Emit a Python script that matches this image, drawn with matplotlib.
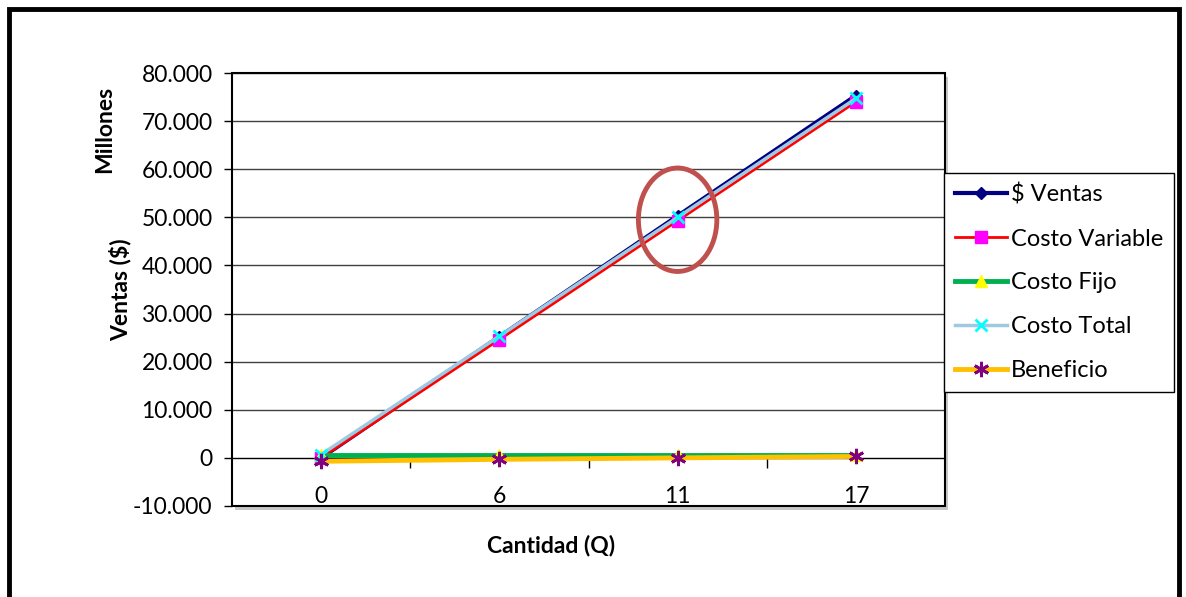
import numpy as np
import matplotlib
matplotlib.use("Agg")
import matplotlib.pyplot as plt
from matplotlib.patches import Rectangle, Ellipse
from matplotlib.ticker import FuncFormatter

plt.rcParams['font.family'] = ['Lato', 'DejaVu Sans']

# data (millions)
cantidad = ["0", "6", "11", "17"]
ventas = [0, 25200, 50300, 75300]
costo_variable = [0, 24600, 49300, 74000]
costo_fijo = [700, 700, 700, 700]
costo_total = [700, 25300, 50000, 74700]
beneficio = [-700, -300, 0, 300]

x = np.arange(len(cantidad))

fig = plt.figure(figsize=(11.86, 5.97), dpi=100)
ax = fig.add_axes([232/1186, 1-506/597, 713/1186, 433/597])

# shadow of plot area
fig.patches.append(Rectangle((235/1186, 1-510/597), 713/1186, 433/597,
                             transform=fig.transFigure, facecolor='#c8c8c8',
                             edgecolor='none', zorder=0))
ax.set_zorder(1)

ax.plot(x, ventas, color='#000080', lw=3, marker='D', ms=6, mfc='#000080', mec='#000080', label='$ Ventas', zorder=3)
ax.plot(x, costo_variable, color='#ff0000', lw=2, marker='s', ms=9, mfc='#ff00ff', mec='#ff00ff', label='Costo Variable', zorder=3)
ax.plot(x, costo_fijo, color='#00b050', lw=3.5, marker='^', ms=9, mfc='#ffff00', mec='#ffff00', label='Costo Fijo', zorder=3)
ax.plot(x, costo_total, color='#9ecae1', lw=2.5, marker='x', ms=9, mew=2, mec='#00ffff', label='Costo Total', zorder=3)
ax.plot(x, beneficio, color='#ffc000', lw=3.5, marker=(6, 2, 0), ms=11, mew=2, mec='#800080', label='Beneficio', zorder=3)

ax.set_xlim(-0.5, 3.5)
ax.set_ylim(-10000, 80000)
ax.set_yticks(np.arange(-10000, 80001, 10000))
ax.yaxis.set_major_formatter(FuncFormatter(lambda v, p: f"{int(v):,}".replace(",", ".")))
ax.grid(axis='y', color='#404040', lw=1)
ax.set_axisbelow(True)
ax.tick_params(axis='y', direction='out', length=6, width=1, labelsize=16.5, pad=8)

for s in ['top', 'right', 'left']:
    ax.spines[s].set_visible(False)
ax.spines['bottom'].set_position(('data', 0))
ax.spines['bottom'].set_color('black')
ax.set_xticks(x)
ax.set_xticklabels(cantidad)
ax.tick_params(axis='x', which='major', length=0, labelsize=16.5, pad=20)
ax.set_xticks([0.5, 1.5, 2.5], minor=True)
ax.tick_params(axis='x', which='minor', direction='out', length=7, width=1)

# plot area border
ax.add_patch(Rectangle((0, 0), 1, 1, transform=ax.transAxes, fill=False,
                       edgecolor='black', lw=1.5, clip_on=False, zorder=4))

# highlight ellipse
ax.add_patch(Ellipse((2, 49500), 0.44, 21500, fill=False, edgecolor='#c0504d', lw=3.5, zorder=5))

fig.text(551/1186, 1-545/597, 'Cantidad (Q)', ha='center', va='center', fontsize=16.5, fontweight='bold')
fig.text(120/1186, 1-290/597, 'Ventas ($)', ha='center', va='center', rotation=90, fontsize=16.5, fontweight='bold')
fig.text(105/1186, 1-129/597, 'Millones', ha='center', va='center', rotation=90, fontsize=16.5, fontweight='bold')

leg = fig.legend(loc='upper left', bbox_to_anchor=(944/1186, 1-173/597), fontsize=17,
                 handlelength=2.2, handletextpad=0.2, labelspacing=0.97, borderpad=0.45,
                 borderaxespad=0, fancybox=False, framealpha=1, edgecolor='black')
leg.get_frame().set_linewidth(1)

# outer frame
fig.patches.append(Rectangle((9/1186, -0.05), 1170/1186, 1.05 - 9/597,
                             transform=fig.transFigure, fill=False,
                             edgecolor='black', lw=3.5, zorder=10))

fig.savefig('out.png', dpi=100)
